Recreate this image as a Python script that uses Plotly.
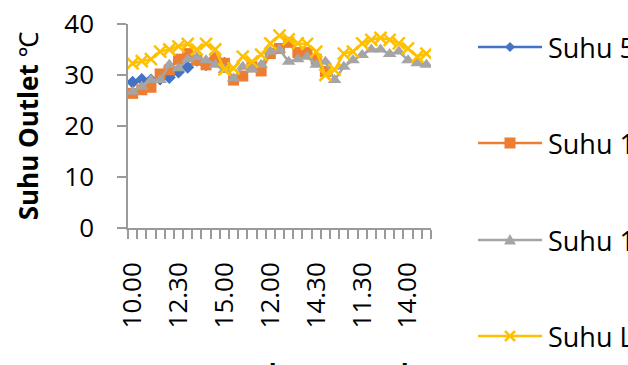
import plotly.graph_objects as go

# Measurement times for each of the three days
times = ["10.00", "10.30", "11.00", "11.30", "12.00", "12.30",
         "13.00", "13.30", "14.00", "14.30", "15.00"]
labels = times * 3
x_idx = list(range(len(labels)))

names = ["Suhu 5 cm", "Suhu 10 cm", "Suhu 15 cm", "Suhu Lingkungan"]

suhu_a = [28.6, 29.1, 29.0, 29.2, 29.5, 30.6, 31.5, 32.9, 32.0, 33.3, 32.3] + [None] * 22
suhu_b = [26.4, 27.1, 27.6, 30.2, 31.0, 33.1, 34.2, 32.9, 32.0, 33.3, 32.3,
          29.0, 29.8, 31.6, 30.8, 34.2, 35.2, 36.4, 34.4, 34.4, 33.1, 30.7] + [None] * 11
suhu_c = [26.7, 27.7, 29.0, 29.0, 32.0, 31.3, 33.1, 33.5, 32.9, 32.0, 31.0,
          29.3, 31.6, 31.1, 32.0, 34.6, 35.0, 32.6, 33.1, 33.6, 32.0, 32.6,
          29.0, 31.6, 32.9, 33.9, 35.0, 35.0, 34.1, 34.6, 32.9, 32.3, 32.0]
suhu_d = [32.3, 32.7, 33.1, 34.6, 35.0, 35.6, 36.1, 35.0, 36.1, 35.0, 31.1,
          31.3, 33.6, 32.6, 34.0, 36.2, 37.7, 37.0, 36.2, 36.1, 34.6, 30.0,
          31.0, 34.2, 34.6, 36.2, 36.9, 37.3, 36.9, 36.2, 35.2, 33.6, 34.2]

tick_idx = x_idx[::5]
tick_text = [labels[i] for i in tick_idx]

series = [
    (names[0], suhu_a, "#4472C4", "diamond", 10),
    (names[1], suhu_b, "#ED7D31", "square", 11),
    (names[2], suhu_c, "#A5A5A5", "triangle-up", 12),
    (names[3], suhu_d, "#FFC000", "x-thin-open", 12),
]

# Pixel paths for the legend keys (relative to the key centre, y up)
key_paths = {
    "diamond": "M-5,0 L0,5 L5,0 L0,-5 Z",
    "square": "M-5.5,-5.5 L5.5,-5.5 L5.5,5.5 L-5.5,5.5 Z",
    "triangle-up": "M-6,-4.5 L6,-4.5 L0,6 Z",
    "x-thin-open": "M-5,-5 L5,5 M-5,5 L5,-5",
}

FONT = "Open Sans, Noto Sans, sans-serif"
AXIS_GREY = "#9a9a9a"
W, H = 628, 365
ML, MR, MT, MB = 128, 197, 24, 137
PW, PH = W - ML - MR, H - MT - MB


def px_x(px):
    return (px - ML) / PW


def px_y(py):
    return (H - MB - py) / PH


fig = go.Figure()
for name, vals, color, sym, size in series:
    fig.add_trace(go.Scatter(
        x=x_idx, y=vals, name=name, mode="lines+markers",
        line=dict(color=color, width=2.5),
        marker=dict(symbol=sym, size=size, color=color,
                    line=dict(color=color, width=2.5 if sym.startswith("x") else 0)),
        showlegend=False,
    ))

# Legend at the right: long line key, marker in its middle, then the name
legend_rows = [47, 143, 240, 336]
for (name, vals, color, sym, size), row in zip(series, legend_rows):
    fig.add_shape(type="line", xref="paper", yref="paper",
                  x0=px_x(478), x1=px_x(542), y0=px_y(row), y1=px_y(row),
                  line=dict(color=color, width=2.5), layer="above")
    is_x = sym.startswith("x")
    fig.add_shape(type="path", xref="paper", yref="paper",
                  xsizemode="pixel", ysizemode="pixel",
                  xanchor=px_x(510), yanchor=px_y(row),
                  path=key_paths[sym],
                  fillcolor=None if is_x else color,
                  line=dict(color=color, width=2.5 if is_x else 0),
                  layer="above")
    fig.add_annotation(text=name, xref="paper", yref="paper",
                       x=px_x(546), y=px_y(row), xanchor="left", yanchor="middle",
                       showarrow=False, font=dict(family=FONT, size=27, color="#000000"))

fig.update_layout(
    width=W, height=H,
    margin=dict(l=ML, r=MR, t=MT, b=MB, autoexpand=False),
    paper_bgcolor="white", plot_bgcolor="white",
    font=dict(family=FONT, size=26, color="#000000"),
    showlegend=False,
    xaxis=dict(
        range=[-0.5, len(labels) - 0.5],
        tickmode="array", tickvals=tick_idx, ticktext=tick_text,
        tickangle=-90, ticks="", showgrid=False, zeroline=False,
        showline=True, linecolor=AXIS_GREY, linewidth=1.5,
        ticklabelstandoff=22,
        tickfont=dict(family=FONT, size=26),
        minor=dict(ticks="outside", tick0=-0.5, dtick=1, ticklen=9,
                   tickcolor=AXIS_GREY, tickwidth=1.5, showgrid=False),
    ),
    yaxis=dict(
        range=[0, 40], tickvals=[0, 10, 20, 30, 40],
        ticks="outside", ticklen=9, tickcolor=AXIS_GREY, tickwidth=1.5,
        showgrid=False, zeroline=False,
        showline=True, linecolor=AXIS_GREY, linewidth=1.5,
        ticklabelstandoff=18,
        tickfont=dict(family=FONT, size=26),
        title=dict(text="<b>Suhu Outlet</b> ℃", standoff=18,
                   font=dict(family=FONT, size=26)),
    ),
)

fig.add_annotation(
    text="<b>Waktu Pengukuran (Jam)</b>", xref="paper", yref="paper",
    x=px_x(390), y=px_y(354), xanchor="center", yanchor="top", showarrow=False,
    font=dict(family=FONT, size=26),
)

fig.write_html("out.html")
